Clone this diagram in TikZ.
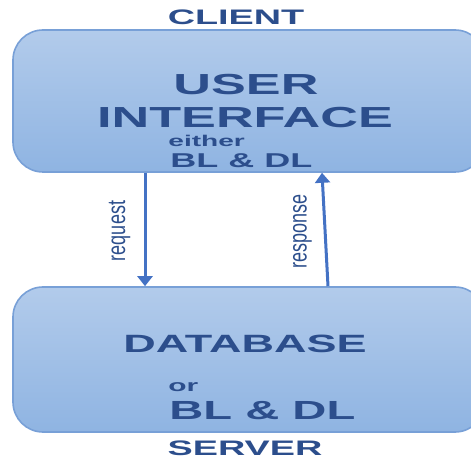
\documentclass[tikz,border=0pt]{standalone}
\usepackage{fontspec}
\usepackage{graphicx}
\usetikzlibrary{arrows.meta,calc,positioning}
\newfontfamily\widefont[FakeStretch=1.8]{Liberation Sans}
\newfontfamily\labelfont{Liberation Sans}
\definecolor{boxtop}{RGB}{178,203,235}
\definecolor{boxbot}{RGB}{143,180,226}
\definecolor{boxline}{RGB}{120,160,215}
\definecolor{textblue}{RGB}{44,78,140}
\definecolor{arrowblue}{RGB}{68,114,196}

\begin{document}
\begin{tikzpicture}[x=0.5pt, y=-0.5pt,
    box/.style={rectangle, draw=boxline, line width=0.8pt, rounded corners=15pt, top color=boxtop, bottom color=boxbot, minimum width=236pt, inner sep=0pt},
    txt/.style={text=textblue, inner sep=0pt, font=\widefont\bfseries\fontsize{#1}{#1}\selectfont},
    side/.style={text=textblue, inner sep=0pt, rotate=90, font=\labelfont\fontsize{9}{9}\selectfont},
    arrow/.style={-{Triangle[width=7.5pt,length=5pt]}, line width=1.5pt, draw=arrowblue}]
    \useasboundingbox (0,0) rectangle (471,459);
    \node[box, minimum height=71pt] (ui) at (249,101) {};
    \node[box, minimum height=72.5pt] (db) at (249,359.5) {};

    \node[txt=10.5, anchor=base] (client) at (236,25) {CLIENT};
    \node[txt=14.5, anchor=base] (user) at (246,95) {USER};
    \node[txt=14.5, anchor=base] (interface) at (245,128) {INTERFACE};
    \node[txt=7.8, anchor=base west] (either) at (168,147) {either};
    \node[txt=10, anchor=base west] (uilayers) at (170,168) {BL \& DL};
    \node[txt=12.5, anchor=base] (database) at (245,353) {DATABASE};
    \node[txt=8.3, anchor=base west] (or) at (168,392) {or};
    \node[txt=13.1, anchor=base west] (dblayers) at (169,420) {BL \& DL};
    \node[txt=10.5, anchor=base] (server) at (245,456) {SERVER};

    \draw[arrow] ($(ui.south)+(-104,0)$) -- ($(db.north)+(-104,0)$);
    \draw[arrow] ($(db.north)+(79,0)$) -- ($(ui.south)+(73,0)$);
    \node[side] (request) at (119.5,231) {\scalebox{1}[1.4]{request}};
    \node[side] (response) at (302.5,231.5) {\scalebox{1}[1.4]{response}};
\end{tikzpicture}
\end{document}
